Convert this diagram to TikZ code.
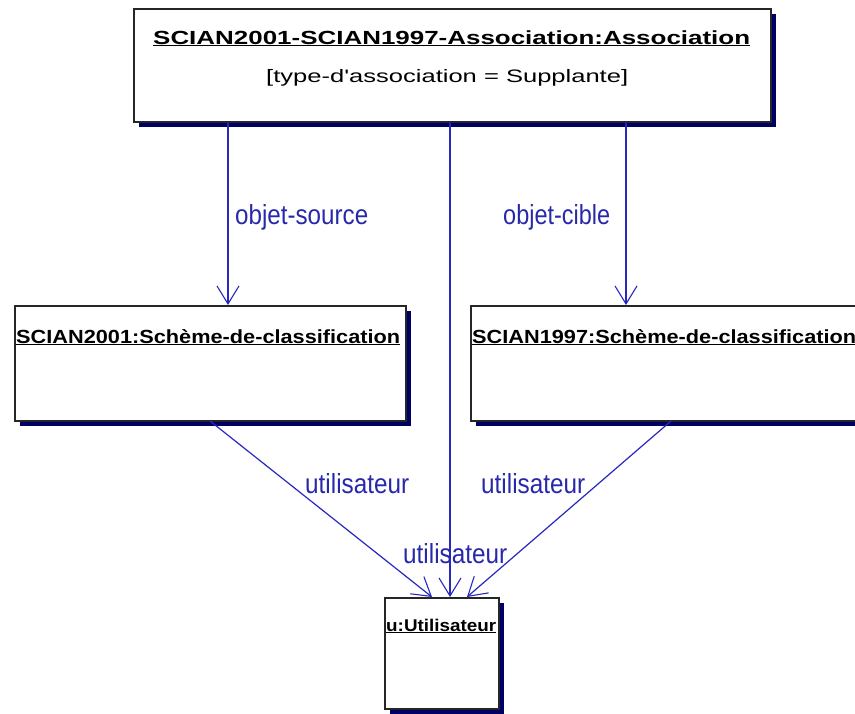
\documentclass[tikz,border=0pt]{standalone}
\usepackage{fontspec}
\setmainfont{Liberation Sans}
\usetikzlibrary{arrows.meta,shadows}
\definecolor{linkblue}{RGB}{40,40,190}
\definecolor{labelblue}{RGB}{40,40,170}
\definecolor{shade}{RGB}{0,0,100}
% stretch text to a given width, keeping its height
\newcommand{\fitw}[2]{\resizebox{#1}{\height}{#2}}
% stretch text to a given width and height above the baseline
\newcommand{\fitwh}[3]{\resizebox{#1}{#2}{#3}}
\begin{document}
\begin{tikzpicture}[x=1pt,y=-1pt,
  objbox/.style={draw=black!85,line width=1.5pt,fill=white,rectangle,anchor=north west,inner sep=0pt,
    drop shadow={shadow xshift=5pt,shadow yshift=-5pt,fill=shade,opacity=1}},
  objtitle/.style={anchor=base west,inner sep=0pt,font=\bfseries},
  rolelabel/.style={anchor=base west,inner sep=0pt,text=labelblue},
  conn/.style={draw=linkblue,line width=1.2pt},
  arr/.style={conn,-{Straight Barb[length=18pt,width=22pt,line width=1.1pt]}}]
\useasboundingbox (0,0) rectangle (855,713);
\fill[white] (0,0) rectangle (855,713);

% object boxes
\node[objbox,minimum width=637pt,minimum height=113pt] (assoc) at (133,8) {};
\node[objbox,minimum width=391pt,minimum height=115pt] (scian01) at (14,305) {};
\node[objbox,minimum width=392pt,minimum height=115pt] (scian97) at (470,305) {};
\node[objbox,minimum width=114pt,minimum height=111pt] (user) at (384,597) {};

% object names and attributes
\node[objtitle] (assocT) at (153,44) {\fitw{597pt}{\fontsize{19}{19}\selectfont\underline{SCIAN2001-SCIAN1997-Association:Association}}};
\node[anchor=base west,inner sep=0pt] (assocA) at (266,82) {\fitw{362pt}{\fontsize{18}{18}\selectfont [type-d\textquotesingle association = Supplante]}};
\node[objtitle] (scian01T) at (16,343) {\fitw{384pt}{\fontsize{19}{19}\selectfont\underline{SCIAN2001:Schème-de-classification}}};
\node[objtitle] (scian97T) at (472,343) {\fitw{384pt}{\fontsize{19}{19}\selectfont\underline{SCIAN1997:Schème-de-classification}}};
\node[objtitle] (userT) at (386,631) {\fitw{110pt}{\fontsize{17}{17}\selectfont\underline{u:Utilisateur}}};

% link end points
\coordinate (srcEnd) at (228,305);
\coordinate (tgtEnd) at (626,305);
\coordinate (midEnd) at (450,597);
\coordinate (u1Start) at (210,421);
\coordinate (u1End) at (432,597);
\coordinate (u2Start) at (671,421);
\coordinate (u2End) at (467,597);

% links
\draw[arr] (srcEnd |- assoc.south) -- (srcEnd);
\draw[arr] (tgtEnd |- assoc.south) -- (tgtEnd);
\draw[arr] (midEnd |- assoc.south) -- (midEnd);
\draw[arr] (u1Start) -- (u1End);
\draw[arr] (u2Start) -- (u2End);

% role names
\node[rolelabel] (lSrc) at (235,224) {\fitwh{133pt}{20pt}{objet-source}};
\node[rolelabel] (lTgt) at (503,224) {\fitwh{107pt}{20pt}{objet-cible}};
\node[rolelabel] (lU1) at (305,493) {\fitwh{104pt}{20pt}{utilisateur}};
\node[rolelabel] (lU2) at (481,493) {\fitwh{104pt}{20pt}{utilisateur}};
\node[rolelabel] (lU3) at (403,563) {\fitwh{104pt}{20pt}{utilisateur}};
\end{tikzpicture}
\end{document}
